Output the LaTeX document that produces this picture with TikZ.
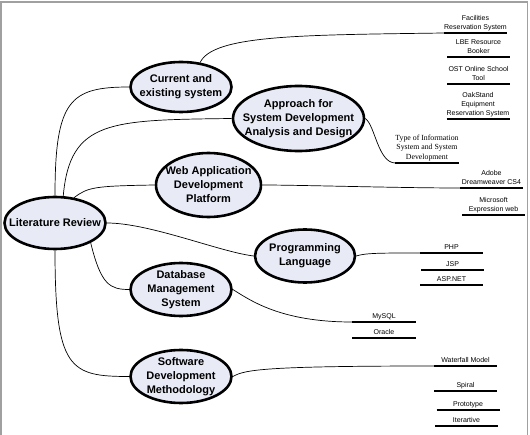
\documentclass[tikz,border=0pt]{standalone}
\usepackage{fontspec}
\setmainfont{Liberation Sans}
\newfontfamily\serifleaf{Liberation Serif}
\usetikzlibrary{shapes.geometric}
\definecolor{bubble}{HTML}{E8EBF6}
\definecolor{framegray}{HTML}{A0A0A0}
\newcommand\lstrut{\rule[-2pt]{0pt}{2pt}}
\tikzset{
  topic/.style={ellipse, draw=black, line width=2.6pt, fill=bubble, inner sep=0pt},
  topictext/.style={font=\fontsize{11}{14}\selectfont\bfseries, align=center, inner sep=0pt},
  leaf/.style={anchor=south, inner xsep=0pt, inner ysep=1.5pt, outer sep=0pt,
    minimum width=63pt, align=center,
    font=\fontsize{7}{9.2}\selectfont},
  uline/.style={line width=1.8pt},
  conn/.style={line width=0.7pt},
}
\begin{document}
\begin{tikzpicture}[x=1pt,y=-1pt]
\useasboundingbox (0,0) rectangle (530,435);
\draw[framegray, line width=1.5pt] (0.8,435) -- (0.8,2.2) -- (527.6,2.2) -- (527.6,435);

% topics
\node[topic, minimum width=101pt, minimum height=52pt, label={[topictext]center:Literature Review}] (lr) at (55,223) {};
\node[topic, minimum width=101pt, minimum height=50pt, label={[topictext]center:Current and\\existing system}] (cur) at (181,87) {};
\node[topic, minimum width=131pt, minimum height=65pt, label={[topictext]center:Approach for\\System Development\\Analysis and Design}] (app) at (298.5,118.5) {};
\node[topic, minimum width=105pt, minimum height=64pt, label={[topictext]center:Web Application\\Development\\Platform}] (web) at (208.5,185) {};
\node[topic, minimum width=100pt, minimum height=53pt, label={[topictext]center:Programming\\Language}] (prog) at (305,256) {};
\node[topic, minimum width=101pt, minimum height=53pt, label={[topictext]center:Database\\Management\\System}] (db) at (181,289.5) {};
\node[topic, minimum width=101pt, minimum height=53pt, label={[topictext]center:Software\\Development\\Methodology}] (sw) at (181,376.5) {};

% leaves
\node[leaf] (f1) at (475.5,33) {Facilities\\Reservation System\lstrut};
\node[leaf] (f2) at (478.5,57) {LBE Resource\\Booker\lstrut};
\node[leaf] (f3) at (478.5,84) {OST Online School\\Tool\lstrut};
\node[leaf] (f4) at (478,119) {OakStand\\Equipment\\Reservation System\lstrut};
\node[leaf, font=\fontsize{7.8}{9.6}\selectfont\serifleaf] (t1) at (427,163) {Type of Information\\System and System\\Development\lstrut};
\node[leaf] (a1) at (491.5,188) {Adobe\\Dreamweaver CS4\lstrut};
\node[leaf] (a2) at (493.5,215) {Microsoft\\Expression web\lstrut};
\node[leaf] (p1) at (451.5,253) {PHP\lstrut};
\node[leaf] (p2) at (452.5,270) {JSP\lstrut};
\node[leaf] (p3) at (451.5,285) {ASP.NET\lstrut};
\node[leaf, minimum width=64pt] (m1) at (384,322) {MySQL\lstrut};
\node[leaf, minimum width=64pt] (m2) at (384,338) {Oracle\lstrut};
\node[leaf] (s1) at (465.5,366) {Waterfall Model\lstrut};
\node[leaf] (s2) at (465.5,391) {Spiral\lstrut};
\node[leaf] (s3) at (468,410) {Prototype\lstrut};
\node[leaf] (s4) at (466.5,426) {Iterartive\lstrut};

\foreach \n in {f1,f2,f3,f4,t1,a1,a2,p1,p2,p3,m1,m2,s1,s2,s3,s4}
  \draw[uline] (\n.south west) -- (\n.south east);

% connectors from the root
\draw[conn] (lr.north) .. controls (55,100) and (70,87) .. (cur.west);
\draw[conn] (lr.73) .. controls (70,120) and (110,120) .. (app.west);
\draw[conn] (lr.53) .. controls (88,187) and (95,186) .. (web.west);
\draw[conn] (lr.east) .. controls (150,223) and (220,252) .. (prog.west);
\draw[conn] (lr.-29) .. controls (101,285) and (110,289.5) .. (db.west);
\draw[conn] (lr.south) .. controls (55,370) and (70,376.5) .. (sw.west);

% connectors to leaves
\draw[conn] (cur.52) .. controls (213,35) and (300,35) .. (f1.south west);
\draw[conn] (app.east) .. controls (375,125) and (378,163) .. (t1.south west);
\draw[conn] (web.east) .. controls (300,185) and (400,188) .. (a1.south west);
\draw[conn] (prog.east) .. controls (365,253) and (380,253) .. (p1.south west);
\draw[conn] (db.east) .. controls (250,300) and (280,322) .. (m1.south west);
\draw[conn] (sw.east) .. controls (245,370) and (260,366) .. (s1.south west);
\end{tikzpicture}
\end{document}
